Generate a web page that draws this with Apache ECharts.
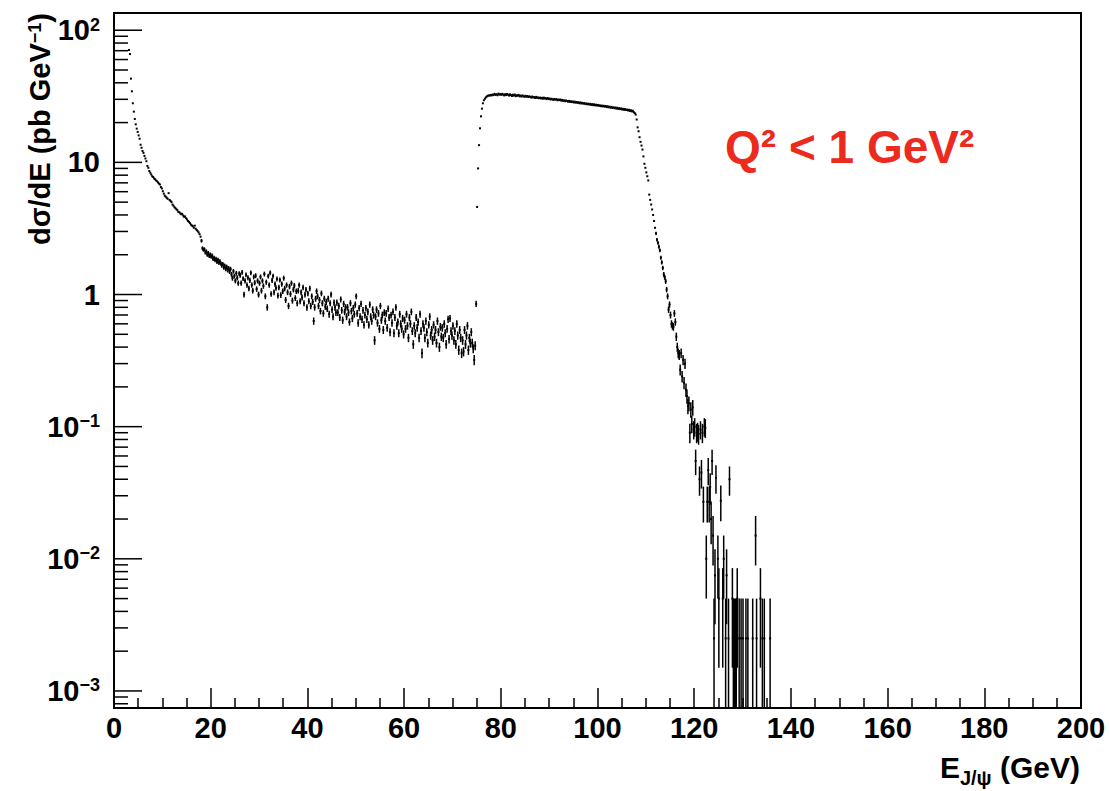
<!DOCTYPE html>
<html>
<head>
<meta charset="utf-8">
<script src="https://cdn.jsdelivr.net/npm/echarts@6/dist/echarts.min.js"></script>
<style>
html,body{margin:0;padding:0;background:#fff;}
#main{width:1110px;height:791px;}
</style>
</head>
<body>
<div id="main"></div>
<script>
// ---------------- DATA ----------------
const BIN_WIDTH = 0.2;            // GeV per histogram bin
const X_TICK_STEP = 20;
const Y_MAJOR_TICKS = [0.001, 0.01, 0.1, 1, 10, 100];
const Y_MINOR_FACTORS = [2, 3, 4, 5, 6, 7, 8, 9];
const Y_RANGE = [7.43e-4, 135];
const X_RANGE = [0, 200];

// 3.1 - 17.9 GeV (bin centres), markers only (errors smaller than marker)
const lowStart = 3.1;
const lowValues = [
  71, 66, 43, 34.5, 28, 24.2, 21.3, 19.4, 18.0, 17.0,
  16.0, 15.1, 13.6, 12.9, 12.2, 11.8, 11.2, 10.7, 10.2, 9.4,
  9.1, 8.6, 8.35, 8.1, 7.85, 7.75, 7.55, 7.45, 7.3, 7.2,
  7.05, 6.9, 6.8, 6.5, 6.35, 6.05, 5.8, 5.6, 5.5, 5.4,
  5.3, 5.85, 5.2, 5.1, 5.0, 4.8, 4.7, 4.58, 4.5, 4.42,
  4.35, 4.22, 4.2, 4.12, 4.05, 4.08, 3.96, 3.87, 3.9, 3.78,
  3.7, 3.6, 3.55, 3.47, 3.38, 3.33, 3.29, 3.2, 3.32, 3.15,
  3.08, 3.02, 2.95, 2.86, 2.74
];

// 18.1 - 74.9 GeV
const midStart = 18.1;
const midValues = [
  2.55, 2.24, 2.18, 2.2, 2.08, 2.12, 2.0, 2.06, 1.96, 2.01,
  1.93, 1.97, 1.86, 1.9, 1.82, 1.86, 1.77, 1.83, 1.74, 1.78,
  1.72, 1.66, 1.7, 1.6, 1.65, 1.56, 1.62, 1.53, 1.58, 1.49,
  1.56, 1.42, 1.33, 1.50, 1.38, 1.27, 1.45, 1.34, 1.22, 1.44,
  1.40, 1.22, 1.47, 1.32, 1.00, 1.27, 1.41, 1.18, 1.34, 1.11,
  1.28, 1.46, 1.18, 1.07, 1.36, 1.23, 1.39, 1.10, 1.27, 1.00,
  1.22, 1.36, 1.07, 1.27, 1.16, 1.43, 0.97, 1.24, 0.80, 1.38,
  1.18, 1.46, 1.01, 1.28, 1.38, 1.04, 1.2, 1.12, 1.31, 0.98,
  1.13, 1.29, 0.99, 1.20, 1.06, 1.33, 1.11, 0.91, 1.18, 1.04,
  0.82, 1.15, 1.01, 1.22, 0.9, 1.09, 1.17, 0.94, 1.06, 0.86,
  1.07, 1.18, 0.89, 1.04, 0.95, 1.13, 0.86, 1.0, 1.09, 0.8,
  1.02, 0.89, 1.11, 0.82, 0.97, 0.88, 0.63, 0.8, 0.93, 1.06,
  0.97, 0.82, 0.91, 0.75, 1.02, 0.86, 0.72, 0.93, 0.81, 0.88,
  0.78, 0.93, 0.71, 0.86, 1.0, 0.77, 0.68, 0.87, 0.8, 0.73,
  0.87, 0.73, 0.82, 0.67, 0.92, 0.76, 0.64, 0.85, 0.74, 0.8,
  0.68, 0.8, 0.73, 0.62, 0.86, 0.75, 0.66, 0.79, 0.71, 0.84,
  0.97, 0.72, 0.61, 0.79, 0.68, 0.85, 0.65, 0.76, 0.59, 0.7,
  0.79, 0.65, 0.74, 0.59, 0.84, 0.68, 0.63, 0.77, 0.7, 0.45,
  0.68, 0.77, 0.61, 0.72, 0.55, 0.82, 0.64, 0.7, 0.54, 0.73,
  0.63, 0.72, 0.56, 0.78, 0.67, 0.52, 0.7, 0.61, 0.74, 0.51,
  0.67, 0.8, 0.58, 0.62, 0.51, 0.71, 0.6, 0.55, 0.66, 0.5,
  0.64, 0.55, 0.71, 0.58, 0.47, 0.67, 0.6, 0.74, 0.53, 0.42,
  0.58, 0.51, 0.67, 0.56, 0.62, 0.47, 0.71, 0.53, 0.36, 0.6,
  0.56, 0.47, 0.63, 0.52, 0.43, 0.59, 0.68, 0.49, 0.54, 0.45,
  0.59, 0.48, 0.54, 0.43, 0.63, 0.52, 0.4, 0.57, 0.48, 0.56,
  0.47, 0.6, 0.51, 0.42, 0.55, 0.65, 0.46, 0.66, 0.53, 0.49,
  0.58, 0.45, 0.53, 0.42, 0.6, 0.49, 0.38, 0.54, 0.47, 0.36,
  0.45, 0.37, 0.54, 0.42, 0.49, 0.58, 0.38, 0.47, 0.43, 0.52,
  0.43, 0.39, 0.32, 0.41, 0.85
];
const midErrors = [
  0.08, 0.075, 0.074, 0.074, 0.072, 0.073, 0.071, 0.072, 0.07, 0.071,
  0.069, 0.07, 0.068, 0.069, 0.067, 0.068, 0.067, 0.068, 0.066, 0.067,
  0.066, 0.064, 0.065, 0.063, 0.064, 0.062, 0.064, 0.062, 0.063, 0.061,
  0.062, 0.06, 0.058, 0.061, 0.059, 0.056, 0.06, 0.058, 0.055, 0.06,
  0.059, 0.055, 0.061, 0.057, 0.05, 0.056, 0.059, 0.054, 0.058, 0.053,
  0.057, 0.06, 0.054, 0.052, 0.058, 0.055, 0.059, 0.052, 0.056, 0.05,
  0.055, 0.058, 0.052, 0.056, 0.054, 0.06, 0.049, 0.056, 0.045, 0.059,
  0.054, 0.06, 0.05, 0.057, 0.059, 0.051, 0.055, 0.053, 0.057, 0.049,
  0.053, 0.057, 0.05, 0.055, 0.051, 0.058, 0.053, 0.048, 0.054, 0.051,
  0.045, 0.054, 0.05, 0.055, 0.047, 0.052, 0.054, 0.048, 0.051, 0.046,
  0.052, 0.054, 0.047, 0.051, 0.049, 0.053, 0.046, 0.05, 0.052, 0.045,
  0.05, 0.047, 0.053, 0.045, 0.049, 0.047, 0.04, 0.045, 0.048, 0.051,
  0.049, 0.045, 0.048, 0.043, 0.05, 0.046, 0.042, 0.048, 0.045, 0.047,
  0.044, 0.048, 0.042, 0.046, 0.05, 0.044, 0.041, 0.047, 0.045, 0.043,
  0.047, 0.043, 0.045, 0.041, 0.048, 0.044, 0.04, 0.046, 0.043, 0.045,
  0.041, 0.045, 0.043, 0.039, 0.046, 0.043, 0.041, 0.044, 0.042, 0.046,
  0.049, 0.042, 0.039, 0.044, 0.041, 0.046, 0.04, 0.044, 0.038, 0.042,
  0.044, 0.04, 0.043, 0.038, 0.046, 0.041, 0.04, 0.044, 0.042, 0.034,
  0.041, 0.044, 0.039, 0.042, 0.037, 0.045, 0.04, 0.042, 0.037, 0.043,
  0.04, 0.042, 0.037, 0.044, 0.041, 0.036, 0.042, 0.039, 0.043, 0.036,
  0.041, 0.045, 0.038, 0.039, 0.036, 0.042, 0.039, 0.037, 0.041, 0.035,
  0.04, 0.037, 0.042, 0.038, 0.034, 0.041, 0.039, 0.043, 0.036, 0.032,
  0.038, 0.036, 0.041, 0.037, 0.039, 0.034, 0.042, 0.036, 0.03, 0.039,
  0.037, 0.034, 0.04, 0.036, 0.033, 0.038, 0.041, 0.035, 0.037, 0.034,
  0.038, 0.035, 0.037, 0.033, 0.04, 0.036, 0.032, 0.038, 0.035, 0.037,
  0.034, 0.039, 0.036, 0.032, 0.037, 0.04, 0.034, 0.041, 0.036, 0.035,
  0.038, 0.034, 0.036, 0.032, 0.039, 0.035, 0.031, 0.037, 0.034, 0.03,
  0.034, 0.03, 0.037, 0.032, 0.035, 0.038, 0.031, 0.034, 0.033, 0.036,
  0.033, 0.031, 0.028, 0.032, 0.046
];

// 75.1 - 111.9 GeV, markers only
const peakStart = 75.1;
const peakValues = [
  4.6, 9.0, 13.5, 18.1, 22.3, 25.5, 28.0, 29.5, 30.3, 31.0, 31.5, 31.9, 32.1, 32.0, 32.4,
  32.1, 32.6, 32.3, 33.0, 32.4, 32.8, 32.2, 33.1, 32.5, 32.9,
  32.4, 33.0, 32.6, 32.1, 32.8, 32.3, 32.9, 32.5, 32.0, 32.7,
  32.3, 31.8, 32.5, 32.0, 32.6, 31.7, 32.2, 31.9, 32.4, 31.6,
  32.0, 31.5, 32.1, 31.7, 31.3, 31.9, 31.4, 31.8, 31.2, 31.6,
  31.3, 30.9, 31.5, 31.0, 31.2, 30.7, 31.3, 30.8, 31.0, 30.6,
  30.9, 30.5, 30.8, 30.3, 30.9, 30.4, 30.6, 30.1, 30.7, 30.2,
  30.4, 29.9, 30.3, 30.0, 29.7, 30.2, 29.8, 30.1, 29.5, 29.9,
  29.6, 29.9, 29.3, 29.7, 29.2, 29.5, 29.0, 29.4, 29.1, 28.8,
  29.2, 28.7, 29.0, 28.6, 28.9, 28.4, 28.8, 28.3, 28.6, 28.2,
  28.5, 28.0, 28.4, 27.9, 28.2, 27.8, 28.1, 27.6, 27.9, 27.5,
  27.8, 27.4, 27.7, 27.2, 27.6, 27.1, 27.5, 27.0, 27.3, 26.9,
  27.2, 26.8, 27.0, 26.6, 26.9, 26.5, 26.8, 26.4, 26.7, 26.2,
  26.6, 26.1, 26.4, 25.9, 26.3, 25.8, 26.1, 25.7, 26.0, 25.5,
  25.9, 25.4, 25.7, 25.3, 25.6, 25.1, 25.4, 25.0, 25.3, 24.9,
  25.1, 24.7, 25.0, 24.5, 24.8, 24.3, 24.6, 24.0, 23.6, 23.0,
  21.1, 18.4, 17.2, 15.5, 14.3, 13.4, 12.5, 11.1, 9.75, 9.1,
  8.4, 7.85, 7.3, 5.7, 5.2, 4.8, 4.4, 4.0, 3.6, 3.2
];

// 112.1 - 135.9 GeV (0 = empty bin)
const tailStart = 112.1;
const tailValues = [
  2.9, 2.6, 2.46, 2.3, 2.16, 1.9, 1.75, 1.59, 1.42, 1.35,
  1.26, 1.09, 0.97, 0.77, 0.84, 0.70, 0.60, 0.58, 0.57, 0.72,
  0.62, 0.48, 0.40, 0.36, 0.35, 0.27, 0.36, 0.24, 0.32, 0.215,
  0.30, 0.19, 0.17, 0.143, 0.15, 0.09, 0.135, 0.105, 0.14, 0.095,
  0.10, 0.055, 0.09, 0.092, 0.088, 0.04, 0.095, 0.045, 0.09, 0.027,
  0.10, 0.098, 0.01, 0.027, 0.047, 0.027, 0.035, 0.02, 0.055, 0.015,
  0.0025, 0.0075, 0.041, 0, 0.01, 0.005, 0, 0.0275, 0, 0.005,
  0.01, 0, 0.0025, 0.0075, 0, 0.0025, 0.04, 0, 0, 0.005,
  0.0025, 0.0025, 0.0025, 0.0025, 0.005, 0, 0.0025, 0, 0.0025, 0,
  0.0025, 0, 0, 0.0025, 0, 0.0025, 0, 0, 0, 0,
  0.0025, 0, 0, 0.015, 0.0025, 0, 0, 0, 0.005, 0,
  0.0025, 0, 0.0025, 0, 0, 0, 0, 0, 0.0025, 0
];
const tailErrors = [
  0.085, 0.081, 0.078, 0.076, 0.073, 0.069, 0.066, 0.063, 0.06, 0.058,
  0.056, 0.052, 0.049, 0.044, 0.046, 0.042, 0.039, 0.038, 0.038, 0.042,
  0.039, 0.035, 0.032, 0.03, 0.03, 0.026, 0.03, 0.024, 0.028, 0.023,
  0.027, 0.022, 0.021, 0.019, 0.019, 0.015, 0.018, 0.016, 0.019, 0.015,
  0.016, 0.012, 0.015, 0.015, 0.015, 0.01, 0.015, 0.011, 0.015, 0.0082,
  0.016, 0.016, 0.005, 0.0082, 0.011, 0.0082, 0.0094, 0.0071, 0.012, 0.0061,
  0.0025, 0.0043, 0.01, 0, 0.005, 0.0035, 0, 0.0083, 0, 0.0035,
  0.005, 0, 0.0025, 0.0043, 0, 0.0025, 0.01, 0, 0, 0.0035,
  0.0025, 0.0025, 0.0025, 0.0025, 0.0035, 0, 0.0025, 0, 0.0025, 0,
  0.0025, 0, 0, 0.0025, 0, 0.0025, 0, 0, 0, 0,
  0.0025, 0, 0, 0.0061, 0.0025, 0, 0, 0, 0.0035, 0,
  0.0025, 0, 0.0025, 0, 0, 0, 0, 0, 0.0025, 0
];

// ---------------- BUILD ----------------
function toPoints(start, values, errors) {
  const out = [];
  values.forEach(function (v, i) {
    if (v > 0) {
      const e = +(start + i * BIN_WIDTH).toFixed(2);
      out.push([e, v, errors ? errors[i] : 0]);
    }
  });
  return out;
}
const histPoints = []
  .concat(toPoints(lowStart, lowValues, null))
  .concat(toPoints(midStart, midValues, midErrors))
  .concat(toPoints(peakStart, peakValues, null))
  .concat(toPoints(tailStart, tailValues, tailErrors));

const yTickData = [];
Y_MAJOR_TICKS.forEach(function (m) {
  yTickData.push([X_RANGE[0], m, 1]);
  Y_MINOR_FACTORS.forEach(function (f) {
    const v = m * f;
    if (v >= Y_RANGE[0] && v <= Y_RANGE[1]) yTickData.push([X_RANGE[0], v, 0]);
  });
});
Y_MINOR_FACTORS.forEach(function (f) {
  const v = Y_MAJOR_TICKS[0] / 10 * f;
  if (v >= Y_RANGE[0]) yTickData.push([X_RANGE[0], v, 0]);
});

const FONT = "'Liberation Sans', Arial, Helvetica, sans-serif";

const chart = echarts.init(document.getElementById('main'), null, { renderer: 'svg' });

chart.setOption({
  animation: false,
  backgroundColor: '#fff',
  grid: {
    left: 114, right: 29, top: 13, bottom: 83,
    show: true, borderColor: '#000', borderWidth: 2, backgroundColor: 'transparent'
  },
  xAxis: {
    type: 'value', min: X_RANGE[0], max: X_RANGE[1], interval: X_TICK_STEP,
    axisLine: { show: true, onZero: false, lineStyle: { color: '#000', width: 2 } },
    axisTick: { show: true, inside: true, length: 20, lineStyle: { color: '#000', width: 1.5 } },
    minorTick: { show: true, splitNumber: 4, length: 10, lineStyle: { color: '#000', width: 1.5 } },
    splitLine: { show: false },
    axisLabel: { color: '#000', fontSize: 29, fontWeight: 'bold', fontFamily: FONT, margin: 5 }
  },
  yAxis: {
    type: 'log', logBase: 10, min: Y_RANGE[0], max: Y_RANGE[1],
    axisLine: { show: true, onZero: false, lineStyle: { color: '#000', width: 2 } },
    axisTick: { show: false },
    splitLine: { show: false },
    axisLabel: {
      margin: 14,
      showMinLabel: true, showMaxLabel: true,
      formatter: function (v) {
        const e = Math.log10(v);
        const r = Math.round(e);
        if (Math.abs(e - r) > 1e-6) return '';
        if (r === 0) return '{m|1}';
        if (r === 1) return '{m|10}';
        return '{m|10}{s|' + (r < 0 ? '\u2212' + (-r) : String(r)) + '}';
      },
      rich: {
        m: { fontSize: 29, fontWeight: 'bold', color: '#000', fontFamily: FONT, lineHeight: 29, verticalAlign: 'top' },
        s: { fontSize: 18, fontWeight: 'bold', color: '#000', fontFamily: FONT, lineHeight: 18, verticalAlign: 'top' }
      }
    }
  },
  graphic: [
    {
      type: 'text', x: 40, y: 13, rotation: Math.PI / 2,
      style: {
        text: '{m|d\u03C3/dE (pb GeV}{s|\u22121}{m|)}',
        align: 'right', verticalAlign: 'middle',
        rich: {
          m: { fontSize: 29, fontWeight: 'bold', fill: '#000', fontFamily: FONT, lineHeight: 29, verticalAlign: 'top' },
          s: { fontSize: 18, fontWeight: 'bold', fill: '#000', fontFamily: FONT, lineHeight: 18, verticalAlign: 'top' }
        }
      }
    },
    {
      type: 'text', x: 1080, y: 752,
      style: {
        text: '{m|E}{b|J/\u03C8}{m| (GeV)}',
        align: 'right', verticalAlign: 'top',
        rich: {
          m: { fontSize: 30, fontWeight: 'bold', fill: '#000', fontFamily: FONT, lineHeight: 30, verticalAlign: 'top' },
          b: { fontSize: 20, fontWeight: 'bold', fill: '#000', fontFamily: FONT, lineHeight: 20, padding: [16, 0, 0, 0], verticalAlign: 'top' }
        }
      }
    },
    {
      type: 'text', x: 725, y: 147,
      style: {
        text: 'Q\u00B2 < 1 GeV\u00B2',
        fill: '#ec2a1e', fontSize: 46, fontWeight: 'bold', fontFamily: FONT,
        align: 'left', verticalAlign: 'middle'
      }
    }
  ],
  series: [
    {
      type: 'custom',
      name: 'yticks',
      data: yTickData,
      silent: true,
      renderItem: function (params, api) {
        const p = api.coord([api.value(0), api.value(1)]);
        const len = api.value(2) === 1 ? 28 : 14;
        return {
          type: 'line',
          shape: { x1: p[0], y1: p[1], x2: p[0] + len, y2: p[1] },
          style: { stroke: '#000', lineWidth: 1.5 }
        };
      }
    },
    {
      type: 'custom',
      name: 'dsigma/dE',
      data: histPoints,
      clip: true,
      silent: true,
      renderItem: function (params, api) {
        const E = api.value(0), v = api.value(1), err = api.value(2);
        const c = api.coord([E, v]);
        const bottomY = params.coordSys.y + params.coordSys.height;
        const children = [];
        if (err > 0) {
          const hi = api.coord([E, v + err]);
          const loVal = v - err;
          const loY = loVal > Y_RANGE[0] ? api.coord([E, loVal])[1] : bottomY;
          children.push({
            type: 'line',
            shape: { x1: c[0], y1: hi[1], x2: c[0], y2: loY },
            style: { stroke: '#000', lineWidth: 1.5 }
          });
        }
        children.push({
          type: 'rect',
          shape: { x: c[0] - 1, y: c[1] - 1, width: 2, height: 2 },
          style: { fill: '#000' }
        });
        return { type: 'group', children: children };
      }
    }
  ]
});
</script>
</body>
</html>
